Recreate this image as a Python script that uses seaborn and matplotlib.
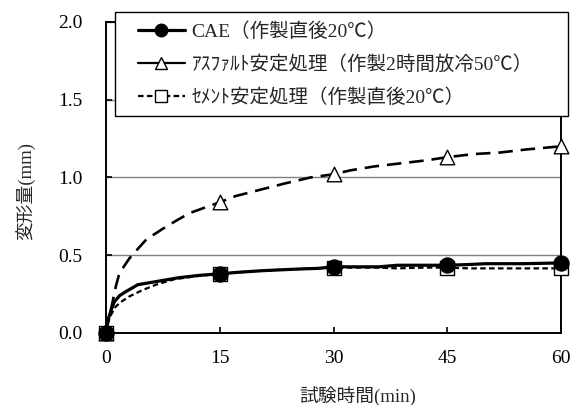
import numpy as np
import pandas as pd
import seaborn as sns
import matplotlib.pyplot as plt
from matplotlib.lines import Line2D
from matplotlib.patches import Rectangle

# データ
t_cae = [0, 0.3, 0.7, 1.1, 1.8, 2.6, 4.2, 6.6, 9.6, 12.3, 15, 17.5, 20.6, 25, 28, 30,
         33, 36, 38.4, 42, 45, 48, 50, 55, 60]
v_cae = [0, 0.09, 0.15, 0.20, 0.24, 0.265, 0.31, 0.33, 0.355, 0.37, 0.38, 0.39, 0.40, 0.41,
         0.415, 0.425, 0.425, 0.425, 0.435, 0.435, 0.435, 0.44, 0.445, 0.445, 0.45]

t_asp = [0, 0.3, 0.66, 1.0, 1.3, 1.75, 2.4, 3.1, 4.2, 5.3, 7.5, 9.2, 11, 12.7, 15, 17.1,
         19.5, 23.5, 27, 30, 32.2, 35.3, 38.8, 42.3, 45, 48.5, 52, 55.5, 60]
v_asp = [0, 0.08, 0.15, 0.23, 0.30, 0.38, 0.43, 0.48, 0.54, 0.60, 0.67, 0.72, 0.77, 0.80,
         0.84, 0.88, 0.91, 0.96, 1.00, 1.02, 1.045, 1.07, 1.09, 1.11, 1.13, 1.15, 1.16, 1.18, 1.20]

t_cem = [0, 0.3, 0.7, 1.3, 2.0, 3.1, 4.8, 6.6, 9, 12, 15, 17.5, 20.6, 25, 30, 33, 36,
         38.4, 42, 45, 48, 52, 55, 60]
v_cem = [0, 0.07, 0.12, 0.17, 0.20, 0.235, 0.275, 0.31, 0.345, 0.365, 0.38, 0.39, 0.40,
         0.41, 0.42, 0.42, 0.42, 0.415, 0.42, 0.42, 0.415, 0.415, 0.415, 0.415]

t_marks = [0, 15, 30, 45, 60]
x_ticks = [0, 15, 30, 45, 60]
y_ticks = [0.0, 0.5, 1.0, 1.5, 2.0]

lab_cae = 'CAE（作製直後20℃）'
lab_asp = 'ｱｽﾌｧﾙﾄ安定処理（作製2時間放冷50℃）'
lab_cem = 'ｾﾒﾝﾄ安定処理（作製直後20℃）'

sns.set_style("ticks")
plt.rcParams['font.family'] = ['Liberation Serif', 'Noto Sans CJK JP', 'DejaVu Sans']
plt.rcParams['font.size'] = 14

df_cae = pd.DataFrame({'t': t_cae, 'v': v_cae})
df_asp = pd.DataFrame({'t': t_asp, 'v': v_asp})
df_cem = pd.DataFrame({'t': t_cem, 'v': v_cem})

fig = plt.figure(figsize=(5.76, 4.05), dpi=100)
ax = fig.add_axes([0.184, 0.178, 0.79, 0.768])

# 曲線
sns.lineplot(data=df_asp, x='t', y='v', ax=ax, color='black', lw=1.9,
             sort=False, estimator=None)
ax.lines[-1].set_dashes((5.5, 3))
sns.lineplot(data=df_cem, x='t', y='v', ax=ax, color='black', lw=1.6,
             sort=False, estimator=None)
ax.lines[-1].set_dashes((2.5, 1.5))
sns.lineplot(data=df_cae, x='t', y='v', ax=ax, color='black', lw=2.3,
             sort=False, estimator=None)

# マーカー
m_asp = df_asp[df_asp['t'].isin(t_marks)]
m_cem = df_cem[df_cem['t'].isin(t_marks)]
m_cae = df_cae[df_cae['t'].isin(t_marks)]
sns.scatterplot(data=m_asp, x='t', y='v', ax=ax, marker='^', s=110, color='white',
                edgecolor='black', linewidth=1.0, zorder=4, clip_on=False)
sns.scatterplot(data=m_cem, x='t', y='v', ax=ax, marker='s', s=110, color='white',
                edgecolor='black', linewidth=1.0, zorder=4, clip_on=False)
sns.scatterplot(data=m_cae, x='t', y='v', ax=ax, marker='o', s=120, color='black',
                edgecolor='black', linewidth=0.8, zorder=5, clip_on=False)

ax.set_xlim(0, 60)
ax.set_ylim(0, 2.0)
ax.set_xticks(x_ticks)
ax.set_yticks(y_ticks)
ax.set_yticklabels([f'{y:.1f}' for y in y_ticks])
ax.tick_params(direction='in', length=4, width=1.2, colors='black', labelsize=14)
ax.tick_params(axis='x', pad=12)
ax.tick_params(axis='y', pad=17)
ax.yaxis.grid(True, color='#808080', lw=1.0)
ax.set_axisbelow(True)
for sp in ax.spines.values():
    sp.set_linewidth(1.4)
    sp.set_color('black')

ax.set_xlabel('試験時間(min)', fontsize=13.5)
ax.set_ylabel('変形量(mm)', fontsize=13.5)
ax.xaxis.set_label_coords(0.554, -0.172)
ax.yaxis.set_label_coords(-0.155, 0.457)

# 凡例の枠 (図の座標)
W, H = 576, 405
frame = Rectangle((115 / W, 1 - 116 / H), (568 - 115) / W, (116 - 12) / H,
                  transform=fig.transFigure, facecolor='white', edgecolor='black',
                  lw=1.0, zorder=9, clip_on=False)
ax.add_patch(frame)

handles = [
    Line2D([], [], color='black', lw=2.3, marker='o', ms=9, mfc='black', mec='black'),
    Line2D([], [], color='black', lw=1.6, marker='^', ms=8, mfc='white', mec='black'),
    Line2D([], [], color='black', lw=1.6, ls=(0, (2.5, 1.5)), marker='s', ms=8,
           mfc='white', mec='black'),
]
leg = ax.legend(handles, [lab_cae, lab_asp, lab_cem], loc='upper left',
                bbox_to_anchor=(138 / W, 1 - 22 / H), bbox_transform=fig.transFigure,
                frameon=False, handlelength=2.4, handletextpad=0.35,
                labelspacing=0.75, borderpad=0, borderaxespad=0, fontsize=14)
leg.set_zorder(10)

fig.savefig('out.png', dpi=100)
